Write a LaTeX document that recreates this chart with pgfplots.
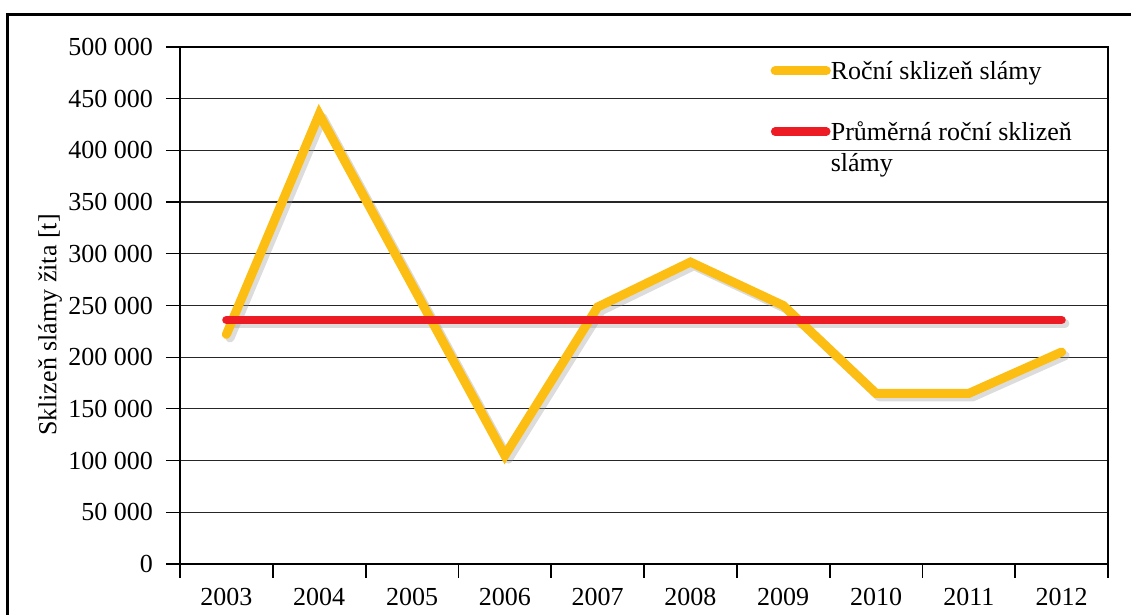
\documentclass[border=0pt]{standalone}
\usepackage{fontspec}
\setmainfont{Liberation Serif}
\usepackage{pgfplots}
\pgfplotsset{compat=1.18}

\definecolor{strawyellow}{HTML}{FDBE14}
\definecolor{avgred}{HTML}{ED1C24}
\definecolor{shadowgray}{HTML}{9A9A9A}

\begin{document}
\begin{tikzpicture}[x=1pt,y=1pt]
\begin{axis}[
  at={(0,0)}, anchor=south west,
  scale only axis,
  width=464pt, height=258.5pt,
  xmin=-0.5, xmax=9.5,
  ymin=0, ymax=500000,
  scaled y ticks=false,
  font=\fontsize{13}{15.6}\selectfont,
  axis line style={line width=0.9pt, black},
  % tick marks sit between the years, the year names in the middle of each slot
  xtick={-0.5,0.5,...,9.5},
  xticklabels={},
  x tick style={line width=0.9pt, black},
  extra x ticks={0,...,9},
  extra x tick labels={2003,2004,2005,2006,2007,2008,2009,2010,2011,2012},
  extra x tick style={major tick length=0pt, grid=none},
  xticklabel style={yshift=-8.5pt},
  ytick={0,50000,...,500000},
  yticklabels={0,50 000,100 000,150 000,200 000,250 000,300 000,350 000,400 000,450 000,500 000},
  ymajorgrids,
  grid style={line width=0.6pt, black!85},
  tick pos=left, tick align=outside,
  major tick length=7pt,
  y tick style={line width=0.6pt, black},
  yticklabel style={xshift=-3pt},
  ylabel={Sklizeň slámy žita [t]},
  ylabel style={at={(axis description cs:-0.140,0.462)}, anchor=center},
  clip=false,
  legend style={
    draw=none, fill=none, inner sep=0pt,
    at={(axis description cs:0.636,0.98)}, anchor=north west,
    font=\fontsize{13}{15.6}\selectfont,
    cells={anchor=base west},
    nodes={inner xsep=0pt},
    /tikz/every even column/.style={column sep=0pt},
    row sep=14pt,
  },
  legend image code/.code={
    \draw[#1] (2.2pt,4.5pt) -- (27.8pt,4.5pt);
  },
]

% soft drop shadows under both lines
\addplot[shadowgray, line width=4.5pt, opacity=0.35, line cap=round, line join=round,
  forget plot, transform canvas={shift={(1.8pt,-1.8pt)}}]
  coordinates {(0,222000) (1,435000) (2,270000) (3,105000) (4,248500)
               (5,292000) (6,250000) (7,165000) (8,165000) (9,205000)};
\addplot[shadowgray, line width=4.2pt, opacity=0.35, line cap=round,
  forget plot, transform canvas={shift={(1.8pt,-1.8pt)}}]
  coordinates {(0,236000) (9,236000)};

% annual straw harvest
\addplot[strawyellow, line width=4.5pt, line cap=round, line join=miter]
  coordinates {(0,222000) (1,435000) (2,270000) (3,105000) (4,248500)
               (5,292000) (6,250000) (7,165000) (8,165000) (9,205000)};
\addlegendentry{Roční sklizeň slámy}

% mean annual harvest
\addplot[avgred, line width=4.2pt, line cap=round]
  coordinates {(0,236000) (9,236000)};
\addlegendentry{\begin{tabular}[t]{@{}l@{}}Průměrná roční sklizeň\\slámy\end{tabular}}
\end{axis}

% outer frame of the figure
\draw[line width=1.5pt, black] (-86pt,-60pt) -- (-86pt,274.5pt) -- (490pt,274.5pt);

\pgfresetboundingbox
\useasboundingbox (-90pt,-25.5pt) rectangle (475.5pt,282pt);
\end{tikzpicture}
\end{document}
